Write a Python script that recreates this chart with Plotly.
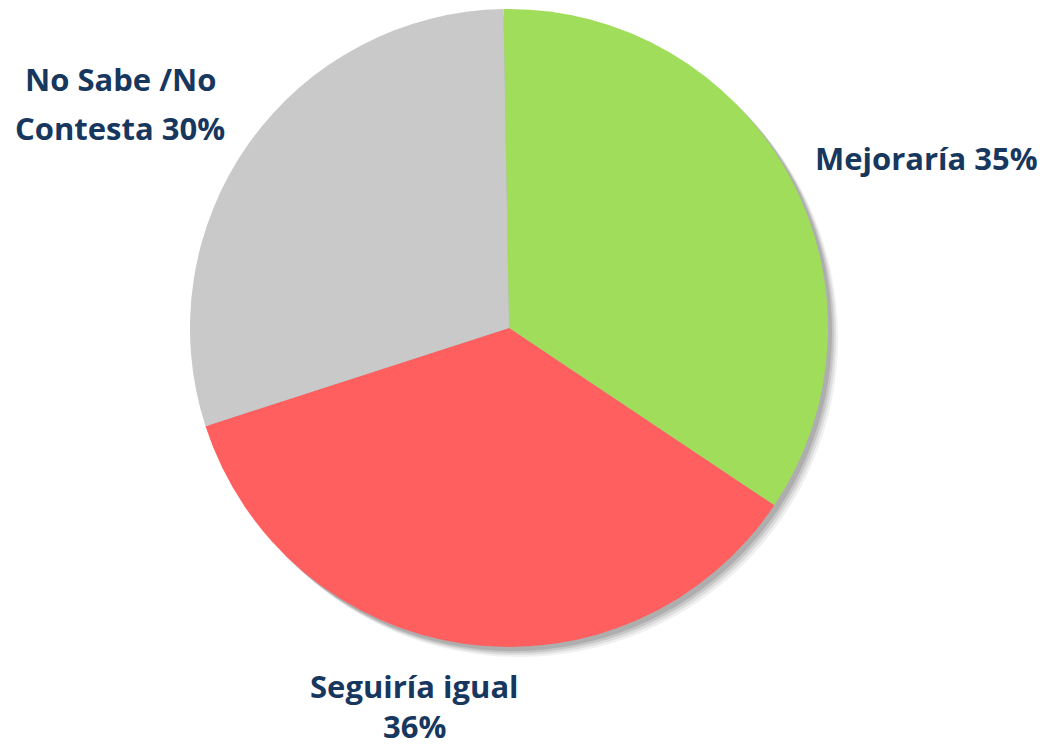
import plotly.graph_objects as go

labels = ["Mejoraría", "Seguiría igual", "No Sabe /No Contesta"]
values = [35, 36, 30]
colors = ["#a0dd5b", "#ff5f5f", "#c9c9c9"]

OFF = 8  # page body margin
W, H = 1045 - OFF, 749 - OFF
cx, cy, r = 509 - OFF, 328 - OFF, 319

def px(x):
    return x / W

def py(y):
    return 1 - y / H

fig = go.Figure()
fig.add_trace(go.Pie(
    labels=labels,
    values=values,
    marker=dict(colors=colors, line=dict(width=0)),
    sort=False,
    direction="clockwise",
    rotation=-1,
    textinfo="none",
    hoverinfo="label+percent",
    showlegend=False,
    domain=dict(x=[px(cx - r), px(cx + r)], y=[py(cy + r), py(cy - r)]),
))

# soft shadow behind the pie
shadows = [(10, 0.06), (8, 0.08), (6, 0.10), (4, 0.12)]
for off, op in shadows:
    fig.add_shape(type="circle", xref="paper", yref="paper", layer="below",
                  x0=px(cx - r + off), x1=px(cx + r + off),
                  y0=py(cy + r + off), y1=py(cy - r + off),
                  fillcolor=f"rgba(0,0,0,{op})", line=dict(width=0))

font = dict(family="'Open Sans', Lato, sans-serif", size=31, color="#17375e")
text_lines = [
    ("<b>Mejoraría 35%</b>", 926, 158),
    ("<b>No Sabe /No</b>", 120, 79),
    ("<b>Contesta 30%</b>", 120, 128),
    ("<b>Seguiría igual</b>", 414, 686),
    ("<b>36%</b>", 414, 726),
]
for t, x, y in text_lines:
    fig.add_annotation(text=t, x=px(x - OFF), y=py(y - OFF), xref="paper", yref="paper",
                       showarrow=False, xanchor="center", yanchor="middle", font=font)

fig.update_layout(width=W, height=H, margin=dict(l=0, r=0, t=0, b=0),
                  paper_bgcolor="white", plot_bgcolor="white")
fig.write_html("out.html")
